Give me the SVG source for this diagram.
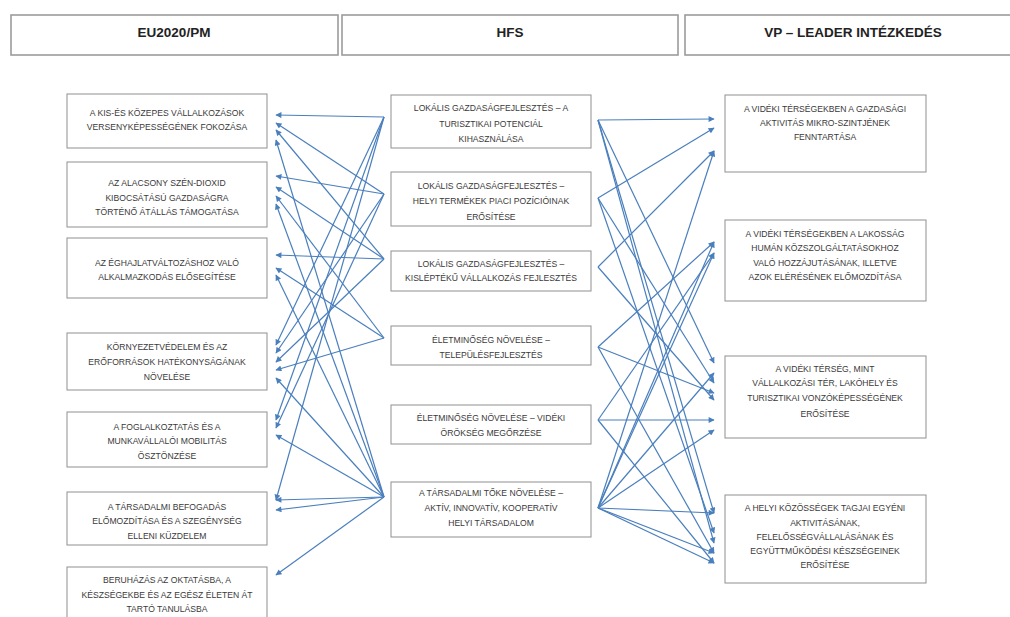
<svg xmlns="http://www.w3.org/2000/svg" width="1010" height="617" viewBox="0 0 1010 617">
<style>
.hbox{fill:#fff;stroke:#9c9c9c;stroke-width:1.6}
.box{fill:#fff;stroke:#8f8f8f;stroke-width:1}
.ht{font-family:"Liberation Sans",Arial,sans-serif;font-size:13.5px;font-weight:bold;fill:#222;text-anchor:middle}
.t{font-family:"Liberation Sans",Arial,sans-serif;font-size:8.6px;fill:#3a3a3a;text-anchor:middle}
.c line{stroke:#4a7fbd;stroke-width:1.2;marker-end:url(#ah)}
</style>
<defs>
<marker id="ah" viewBox="0 0 10 10" refX="9" refY="5" markerWidth="7" markerHeight="6" markerUnits="userSpaceOnUse" orient="auto">
<path d="M0,0 L10,5 L0,10 z" fill="#4a7fbd"/>
</marker>
</defs>
<rect width="1010" height="617" fill="#fff"/>
<g id="h1"><rect class="hbox" x="11" y="15" width="327" height="40"/><text class="ht" x="174" y="37">EU2020/PM</text></g>
<g id="h2"><rect class="hbox" x="342" y="15" width="336" height="40"/><text class="ht" x="510" y="37">HFS</text></g>
<g id="h3"><rect class="hbox" x="685" y="15" width="330" height="40"/><text class="ht" x="853" y="37">VP – LEADER INTÉZKEDÉS</text></g>

<g id="L1"><rect class="box" x="67" y="94" width="200" height="54"/><text class="t" x="167" y="116">A KIS-ÉS KÖZEPES VÁLLALKOZÁSOK</text><text class="t" x="167" y="130">VERSENYKÉPESSÉGÉNEK FOKOZÁSA</text></g>
<g id="L2"><rect class="box" x="67" y="162" width="200" height="65"/><text class="t" x="167" y="186">AZ ALACSONY SZÉN-DIOXID</text><text class="t" x="167" y="201">KIBOCSÁTÁSÚ GAZDASÁGRA</text><text class="t" x="167" y="215">TÖRTÉNŐ ÁTÁLLÁS TÁMOGATÁSA</text></g>
<g id="L3"><rect class="box" x="67" y="238" width="200" height="60"/><text class="t" x="167" y="266">AZ ÉGHAJLATVÁLTOZÁSHOZ VALÓ</text><text class="t" x="167" y="280">ALKALMAZKODÁS ELŐSEGÍTÉSE</text></g>
<g id="L4"><rect class="box" x="67" y="333" width="200" height="57"/><text class="t" x="167" y="350">KÖRNYEZETVÉDELEM ÉS AZ</text><text class="t" x="167" y="365">ERŐFORRÁSOK HATÉKONYSÁGÁNAK</text><text class="t" x="167" y="380">NÖVELÉSE</text></g>
<g id="L5"><rect class="box" x="67" y="412" width="200" height="55"/><text class="t" x="167" y="430">A FOGLALKOZTATÁS ÉS A</text><text class="t" x="167" y="444">MUNKAVÁLLALÓI MOBILITÁS</text><text class="t" x="167" y="459">ÖSZTÖNZÉSE</text></g>
<g id="L6"><rect class="box" x="67" y="492" width="200" height="53"/><text class="t" x="167" y="510">A TÁRSADALMI BEFOGADÁS</text><text class="t" x="167" y="524">ELŐMOZDÍTÁSA ÉS A SZEGÉNYSÉG</text><text class="t" x="167" y="539">ELLENI KÜZDELEM</text></g>
<g id="L7"><rect class="box" x="67" y="567" width="200" height="60"/><text class="t" x="167" y="583">BERUHÁZÁS AZ OKTATÁSBA, A</text><text class="t" x="167" y="598">KÉSZSÉGEKBE ÉS AZ EGÉSZ ÉLETEN ÁT</text><text class="t" x="167" y="612">TARTÓ TANULÁSBA</text></g>

<g id="M1"><rect class="box" x="391" y="95" width="200" height="53"/><text class="t" x="491" y="111">LOKÁLIS GAZDASÁGFEJLESZTÉS – A</text><text class="t" x="491" y="127">TURISZTIKAI POTENCIÁL</text><text class="t" x="491" y="142">KIHASZNÁLÁSA</text></g>
<g id="M2"><rect class="box" x="391" y="172" width="200" height="54"/><text class="t" x="491" y="189">LOKÁLIS GAZDASÁGFEJLESZTÉS –</text><text class="t" x="491" y="204">HELYI TERMÉKEK PIACI POZÍCIÓINAK</text><text class="t" x="491" y="220">ERŐSÍTÉSE</text></g>
<g id="M3"><rect class="box" x="391" y="251" width="200" height="40"/><text class="t" x="491" y="267">LOKÁLIS GAZDASÁGFEJLESZTÉS –</text><text class="t" x="491" y="281">KISLÉPTÉKŰ VÁLLALKOZÁS FEJLESZTÉS</text></g>
<g id="M4"><rect class="box" x="391" y="326" width="200" height="39"/><text class="t" x="491" y="343">ÉLETMINŐSÉG NÖVELÉSE –</text><text class="t" x="491" y="358">TELEPÜLÉSFEJLESZTÉS</text></g>
<g id="M5"><rect class="box" x="391" y="405" width="200" height="39"/><text class="t" x="491" y="421">ÉLETMINŐSÉG NÖVELÉSE – VIDÉKI</text><text class="t" x="491" y="436">ÖRÖKSÉG MEGŐRZÉSE</text></g>
<g id="M6"><rect class="box" x="391" y="482" width="200" height="55"/><text class="t" x="491" y="496">A TÁRSADALMI TŐKE NÖVELÉSE –</text><text class="t" x="491" y="511">AKTÍV, INNOVATÍV, KOOPERATÍV</text><text class="t" x="491" y="526">HELYI TÁRSADALOM</text></g>

<g id="R1"><rect class="box" x="725" y="95" width="201" height="77"/><text class="t" x="825" y="112">A VIDÉKI TÉRSÉGEKBEN A GAZDASÁGI</text><text class="t" x="825" y="126">AKTIVITÁS MIKRO-SZINTJÉNEK</text><text class="t" x="825" y="140">FENNTARTÁSA</text></g>
<g id="R2"><rect class="box" x="725" y="220" width="201" height="81"/><text class="t" x="825" y="237">A VIDÉKI TÉRSÉGEKBEN A LAKOSSÁG</text><text class="t" x="825" y="251">HUMÁN KÖZSZOLGÁLTATÁSOKHOZ</text><text class="t" x="825" y="266">VALÓ HOZZÁJUTÁSÁNAK, ILLETVE</text><text class="t" x="825" y="280">AZOK ELÉRÉSÉNEK ELŐMOZDÍTÁSA</text></g>
<g id="R3"><rect class="box" x="725" y="356" width="201" height="82"/><text class="t" x="825" y="372">A VIDÉKI TÉRSÉG, MINT</text><text class="t" x="825" y="386">VÁLLALKOZÁSI TÉR, LAKÓHELY ÉS</text><text class="t" x="825" y="401">TURISZTIKAI VONZÓKÉPESSÉGÉNEK</text><text class="t" x="825" y="417">ERŐSÍTÉSE</text></g>
<g id="R4"><rect class="box" x="725" y="495" width="201" height="88"/><text class="t" x="825" y="511">A HELYI KÖZÖSSÉGEK TAGJAI EGYÉNI</text><text class="t" x="825" y="526">AKTIVITÁSÁNAK,</text><text class="t" x="825" y="540">FELELŐSSÉGVÁLLALÁSÁNAK ÉS</text><text class="t" x="825" y="554">EGYÜTTMŰKÖDÉSI KÉSZSÉGEINEK</text><text class="t" x="825" y="568">ERŐSÍTÉSE</text></g>

<g id="connectors" class="c">
<line x1="384" y1="117" x2="276" y2="115"/>
<line x1="384" y1="117" x2="276" y2="345"/>
<line x1="384" y1="117" x2="276" y2="420"/>
<line x1="384" y1="117" x2="276" y2="500"/>
<line x1="384" y1="194" x2="276" y2="123"/>
<line x1="384" y1="194" x2="276" y2="176"/>
<line x1="384" y1="194" x2="276" y2="353"/>
<line x1="384" y1="194" x2="276" y2="428"/>
<line x1="384" y1="259" x2="276" y2="130"/>
<line x1="384" y1="259" x2="276" y2="187"/>
<line x1="384" y1="259" x2="276" y2="255"/>
<line x1="384" y1="259" x2="276" y2="362"/>
<line x1="384" y1="338" x2="276" y2="196"/>
<line x1="384" y1="338" x2="276" y2="268"/>
<line x1="384" y1="338" x2="276" y2="370"/>
<line x1="384" y1="497" x2="276" y2="140"/>
<line x1="384" y1="497" x2="276" y2="204"/>
<line x1="384" y1="497" x2="276" y2="275"/>
<line x1="384" y1="497" x2="276" y2="378"/>
<line x1="384" y1="497" x2="276" y2="435"/>
<line x1="384" y1="497" x2="276" y2="500"/>
<line x1="384" y1="497" x2="276" y2="510"/>
<line x1="384" y1="497" x2="276" y2="575"/>

<line x1="598" y1="120" x2="714" y2="119"/>
<line x1="598" y1="120" x2="714" y2="363"/>
<line x1="598" y1="120" x2="714" y2="513"/>
<line x1="598" y1="120" x2="714" y2="543"/>
<line x1="598" y1="198" x2="714" y2="128"/>
<line x1="598" y1="198" x2="714" y2="383"/>
<line x1="598" y1="198" x2="714" y2="533"/>
<line x1="598" y1="267" x2="714" y2="151"/>
<line x1="598" y1="267" x2="714" y2="400"/>
<line x1="598" y1="347" x2="714" y2="242"/>
<line x1="598" y1="347" x2="714" y2="393"/>
<line x1="598" y1="347" x2="714" y2="553"/>
<line x1="598" y1="420" x2="714" y2="420"/>
<line x1="598" y1="420" x2="714" y2="253"/>
<line x1="598" y1="420" x2="714" y2="563"/>
<line x1="598" y1="508" x2="714" y2="151"/>
<line x1="598" y1="508" x2="714" y2="242"/>
<line x1="598" y1="508" x2="714" y2="253"/>
<line x1="598" y1="508" x2="714" y2="373"/>
<line x1="598" y1="508" x2="714" y2="430"/>
<line x1="598" y1="508" x2="714" y2="513"/>
<line x1="598" y1="508" x2="714" y2="553"/>
<line x1="598" y1="508" x2="714" y2="563"/>
</g>
</svg>
